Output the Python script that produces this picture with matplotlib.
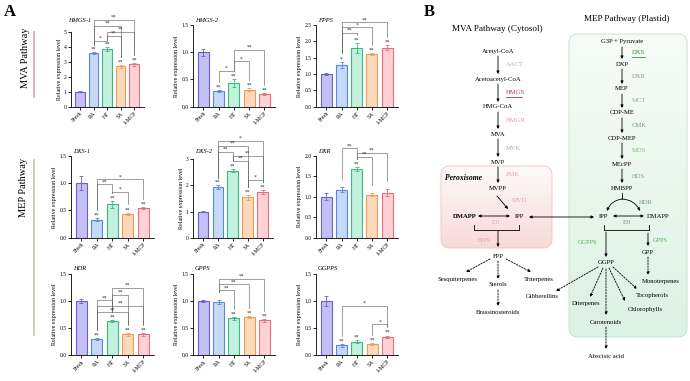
import matplotlib
matplotlib.use('Agg')
import matplotlib.pyplot as plt
import numpy as np
from matplotlib.patches import FancyBboxPatch
from matplotlib.colors import LinearSegmentedColormap

plt.rcParams['font.family'] = ['Liberation Serif', 'DejaVu Serif']

groups = ['Fresh', 'RA', 'HT', 'SA', '1-MCP']

# relative expression (mean) and error bars
hmgs1 = [1.00, 3.57, 3.83, 2.68, 2.82]
hmgs1_err = [0.03, 0.05, 0.15, 0.10, 0.10]
hmgs2 = [1.00, 0.29, 0.43, 0.31, 0.23]
hmgs2_err = [0.06, 0.02, 0.07, 0.03, 0.02]
fpps = [1.00, 1.28, 1.79, 1.60, 1.81]
fpps_err = [0.02, 0.10, 0.15, 0.03, 0.08]
dxs1 = [1.00, 0.33, 0.61, 0.44, 0.54]
dxs1_err = [0.13, 0.03, 0.06, 0.02, 0.02]
dxs2 = [1.00, 1.93, 2.57, 1.55, 1.75]
dxs2_err = [0.02, 0.07, 0.05, 0.10, 0.08]
dxr = [1.00, 1.17, 1.68, 1.05, 1.10]
dxr_err = [0.08, 0.06, 0.05, 0.04, 0.08]
hdr = [1.00, 0.29, 0.63, 0.38, 0.38]
hdr_err = [0.03, 0.02, 0.02, 0.02, 0.03]
gpps = [1.00, 0.98, 0.68, 0.70, 0.64]
gpps_err = [0.01, 0.03, 0.03, 0.02, 0.02]
ggpps = [1.00, 0.18, 0.25, 0.20, 0.34]
ggpps_err = [0.10, 0.03, 0.02, 0.02, 0.02]

# significance vs Fresh
sig_hmgs1 = ['', '**', '**', '**', '**']
sig_hmgs2 = ['', '**', '**', '**', '**']
sig_fpps = ['', '*', '**', '**', '**']
sig_dxs1 = ['', '**', '**', '**', '**']
sig_dxs2 = ['', '**', '**', '**', '**']
sig_dxr = ['', '', '**', '', '']
sig_hdr = ['', '**', '**', '**', '**']
sig_gpps = ['', '', '**', '**', '**']
sig_ggpps = ['', '**', '**', '**', '**']

# pairwise comparisons (i, j, label, bracket level)
br_hmgs1 = [(1, 4, '**', 5.78), (1, 3, '**', 5.4), (2, 4, '**', 5.0), (2, 3, '**', 4.73), (1, 2, '*', 4.4)]
br_hmgs2 = [(2, 4, '**', 1.04), (2, 3, '*', 0.83), (1, 2, '*', 0.66)]
br_fpps = [(1, 4, '**', 2.58), (1, 3, '*', 2.43), (1, 2, '**', 2.26)]
br_dxs1 = [(1, 4, '*', 1.07), (1, 2, '**', 0.98), (2, 3, '*', 0.84)]
br_dxs2 = [(1, 4, '*', 3.7), (1, 3, '**', 3.52), (1, 2, '**', 3.29), (2, 4, '**', 3.14), (2, 3, '**', 2.95), (3, 4, '*', 2.21)]
br_dxr = [(1, 2, '**', 2.18), (2, 4, '**', 2.07), (2, 3, '**', 1.98)]
br_hdr = [(2, 4, '**', 1.25), (2, 3, '**', 1.12), (1, 2, '**', 1.01), (1, 4, '**', 0.91), (1, 3, '**', 0.79)]
br_gpps = [(1, 4, '**', 1.41), (1, 3, '**', 1.31), (1, 2, '**', 1.2)]
br_ggpps = [(1, 4, '*', 0.91), (3, 4, '*', 0.57)]

panels = [
    ('HMGS-1', hmgs1, hmgs1_err, 5, 1, sig_hmgs1, br_hmgs1),
    ('HMGS-2', hmgs2, hmgs2_err, 1.5, 0.5, sig_hmgs2, br_hmgs2),
    ('FPPS', fpps, fpps_err, 2.5, 0.5, sig_fpps, br_fpps),
    ('DXS-1', dxs1, dxs1_err, 1.5, 0.5, sig_dxs1, br_dxs1),
    ('DXS-2', dxs2, dxs2_err, 3, 1, sig_dxs2, br_dxs2),
    ('DXR', dxr, dxr_err, 2.0, 0.5, sig_dxr, br_dxr),
    ('HDR', hdr, hdr_err, 1.5, 0.5, sig_hdr, br_hdr),
    ('GPPS', gpps, gpps_err, 1.5, 0.5, sig_gpps, br_gpps),
    ('GGPPS', ggpps, ggpps_err, 1.5, 0.5, sig_ggpps, br_ggpps),
]

# axes boxes in pixels: left, top, right, bottom, title y
boxes = [
    (70.7, 31.7, 143.5, 106.7, 20), (192.7, 25, 275, 106.7, 20), (315.7, 25, 397.7, 106.7, 20),
    (70.7, 156, 154, 237.7, 151.5), (192.7, 159.3, 273, 237.7, 151.5), (315.7, 155.7, 397.7, 237.7, 151.5),
    (70.7, 274, 154, 355, 269), (192.7, 274, 275, 355, 269), (315.7, 274, 398, 355, 269),
]

fills = ['#c4c0f6', '#c6daf8', '#c2f1dd', '#fdd9bb', '#fdd2d5']
edges = ['#6a5ed2', '#5a88d8', '#3db883', '#ee9c5a', '#e46f80']

W, H = 690, 381
fig = plt.figure(figsize=(6.9, 3.81), dpi=100)

ov = fig.add_axes([0, 0, 1, 1], zorder=0)
ov.axis('off')

for (name, vals, errs, top, step, sig, brs), (l, t, r, b, ty) in zip(panels, boxes):
    ax = fig.add_axes([l / W, 1 - b / H, (r - l) / W, (b - t) / H], zorder=2)
    ax.set_facecolor('none')
    x = np.arange(len(groups))
    ax.bar(x, vals, width=0.72, color=fills, edgecolor=edges, linewidth=0.8, zorder=2)
    for i in x:
        ax.errorbar(i, vals[i], yerr=errs[i], fmt='none', ecolor=edges[i], elinewidth=0.6,
                    capsize=1.5, capthick=0.6, zorder=3)
        if sig[i]:
            ax.text(i, vals[i] + errs[i] + top * 0.005, sig[i], ha='center', va='bottom',
                    fontsize=4, color='#333333')
    for i, j, lab, yb in brs:
        yi = vals[i] + errs[i] + top * 0.1
        yj = vals[j] + errs[j] + top * 0.1
        ax.plot([i, i, j, j], [yi, yb, yb, yj], color='#666666', lw=0.45, clip_on=False, zorder=1)
        ax.text((i + j) / 2, yb, lab, ha='center', va='bottom', fontsize=4, color='#333333',
                clip_on=False)
    ax.set_xlim(-0.7, 4.7)
    ax.set_ylim(0, top)
    ticks = np.arange(0, top + step / 2, step)
    ax.set_yticks(ticks)
    ax.set_yticklabels(['%d' % v if step >= 1 else '%.1f' % v for v in ticks])
    ax.set_xticks(x)
    ax.set_xticklabels(groups, rotation=45, ha='right', rotation_mode='anchor')
    for s in ['top', 'right']:
        ax.spines[s].set_visible(False)
    for s in ['left', 'bottom']:
        ax.spines[s].set_linewidth(0.6)
    ax.tick_params(labelsize=4, length=2, width=0.6, pad=1)
    ax.set_ylabel('Relative expression level', fontsize=4.3, labelpad=1.5)
    dx = -3 if name == 'HMGS-1' else 2
    ov.text(l + dx, ty, name, style='italic', fontsize=4.6, ha='left', va='center')

# panel A side labels
ov.text(4, 12, 'A', fontsize=12, fontweight='bold', ha='left', va='center')
ov.text(25, 58, 'MVA Pathway', rotation=90, fontsize=7.5, ha='center', va='center')
ov.plot([34.3, 34.3], [31.7, 96.7], color='#eba6af', lw=1.3)
ov.text(24, 187, 'MEP Pathway', rotation=90, fontsize=7.5, ha='center', va='center')
ov.plot([34.3, 34.3], [160, 335], color='#c9ccb6', lw=1.3)

# panel B
def grad_box(x0, y0, w, h, c_top, c_bot, edge):
    patch = FancyBboxPatch((x0, y0), w, h, boxstyle='round,pad=0,rounding_size=9',
                           fc='none', ec=edge, lw=0.7, zorder=1)
    ov.add_patch(patch)
    cmap = LinearSegmentedColormap.from_list('g', [c_top, c_bot])
    grad = np.linspace(0, 1, 100)[:, None]
    im = ov.imshow(grad, extent=(x0, x0 + w, y0 + h, y0), cmap=cmap, aspect='auto', zorder=0.5)
    im.set_clip_path(patch)


grad_box(569, 34, 118, 303, '#f7fcf8', '#dcf2e3', '#c6e4cd')
grad_box(441, 166, 111, 82, '#fefafa', '#f8d9d9', '#f1c9c9')


def txt(x, y, s, **kw):
    kw.setdefault('fontsize', 4.8)
    kw.setdefault('ha', 'center')
    ov.text(x, y, s, va='center', **kw)


def arr(x1, y1, x2, y2, dashed=False, style='-|>', rad=0):
    ov.annotate('', xy=(x2, y2), xytext=(x1, y1),
                arrowprops=dict(arrowstyle=style, color='k', lw=0.6, mutation_scale=4,
                                linestyle=(0, (2, 1.5)) if dashed else '-',
                                shrinkA=0, shrinkB=0, connectionstyle='arc3,rad=%s' % rad))


ov.text(424, 12, 'B', fontsize=12, fontweight='bold', ha='left', va='center')
txt(497, 29, 'MVA Pathway (Cytosol)', fontsize=6.6)
txt(627, 19, 'MEP Pathway (Plastid)', fontsize=6.6)

# MVA pathway
mva_nodes = ['Acetyl-CoA', 'Acetoacetyl-CoA', 'HMG-CoA', 'MVA', 'MVP', 'MVPP']
mva_enz = ['AACT', 'HMGS', 'HMGR', 'MVK', 'PMK']
mva_col = ['#d9a2ad', '#b3394a', '#d6a6a6', '#b9a9b9', '#dea2b6']
mva_y = [51, 79, 107, 134, 162, 188]
for k, s in enumerate(mva_nodes):
    txt(498, mva_y[k], s)
for k, s in enumerate(mva_enz):
    y0, y1 = mva_y[k] + 5, mva_y[k + 1] - 5
    arr(498, y0, 498, y1)
    ym = (y0 + y1) / 2
    txt(506, ym, s, ha='left', color=mva_col[k])
    if s == 'HMGS':
        ov.plot([506, 522], [ym + 3.5, ym + 3.5], color=mva_col[k], lw=0.6)
ov.text(445, 178, 'Peroxisome', fontsize=5.5, fontweight='bold', style='italic', va='center')

arr(497, 196, 508, 209)
txt(512, 201, 'MVD', ha='left', color='#dca2b6')
txt(465, 217, 'DMAPP', fontweight='bold')
txt(519, 217, 'IPP')
arr(478, 216, 510, 216, style='<|-|>')
txt(496, 223, 'IDI', fontsize=4.3, color='#d6aab2')
ov.plot([474, 474, 519, 519], [225, 230, 230, 225], color='k', lw=0.6)
arr(498, 231, 498, 247)
txt(491, 241, 'FPPS', ha='right', fontsize=4.3, color='#dca2b4')
txt(498, 256, 'FPP')
arr(490, 259, 466, 272, dashed=True)
arr(498, 261, 498, 279, dashed=True)
arr(506, 259, 531, 272, dashed=True)
txt(457, 279, 'Sesquiterpenes')
txt(498, 285, 'Sterols')
txt(539, 279, 'Triterpenes')
arr(498, 290, 498, 306, dashed=True)
txt(498, 312, 'Brassinosteroids')

arr(529, 217, 594, 217, style='<|-|>')

# MEP pathway
mep_nodes = ['G3P + Pyruvate', 'DXP', 'MEP', 'CDP-ME', 'CDP-MEP', 'MEcPP', 'HMBPP']
mep_enz = ['DXS', 'DXR', 'MCT', 'CMK', 'MDS', 'HDS']
mep_col = ['#2f8a35', '#7d9c8c', '#8cbb8c', '#6c9c8c', '#79c079', '#7c9c9c']
mep_y = [42, 64, 89, 113, 138, 164, 188]
for k, s in enumerate(mep_nodes):
    txt(622, mep_y[k], s)
for k, s in enumerate(mep_enz):
    y0, y1 = mep_y[k] + 5, mep_y[k + 1] - 5
    arr(622, y0, 622, y1)
    ym = (y0 + y1) / 2
    txt(632, ym, s, ha='left', color=mep_col[k])
    if s == 'DXS':
        ov.plot([632, 645], [ym + 3.5, ym + 3.5], color=mep_col[k], lw=0.6)

ov.plot([622, 622], [193, 199], color='k', lw=0.6)
arr(622, 199, 607, 211, rad=0.3)
arr(622, 199, 640, 211, rad=-0.3)
txt(639, 202, 'HDR', ha='left', color='#6c9c6c')
txt(603, 217, 'IPP')
txt(658, 217, 'DMAPP')
arr(613, 216, 644, 216, style='<|-|>')
txt(627, 223, 'IDI', fontsize=4.3, color='#6c8c8c')
ov.plot([604, 604, 649, 649], [225, 230, 230, 225], color='k', lw=0.6)
arr(606, 232, 606, 257)
txt(588, 243, 'GGPPS', fontsize=4.5, color='#52b452')
arr(648, 233, 648, 246)
txt(653, 240, 'GPPS', ha='left', fontsize=4.5, color='#52b452')
txt(648, 252, 'GPP')
arr(648, 257, 648, 275, dashed=True)
txt(661, 282, 'Monoterpenes')
txt(606, 263, 'GGPP')
arr(598, 267, 556, 291, dashed=True)
arr(603, 268, 590, 297, dashed=True)
arr(606, 269, 606, 315, dashed=True)
arr(609, 268, 625, 301, dashed=True)
arr(613, 267, 637, 289, dashed=True)
txt(542, 297, 'Gibberellins')
txt(586, 304, 'Diterpenes')
txt(606, 322, 'Carotenoids')
txt(645, 309, 'Chlorophylls')
txt(652, 296, 'Tocopherols')
arr(606, 327, 606, 349, dashed=True)
txt(606, 356, 'Abscisic acid')

ov.set_xlim(0, W)
ov.set_ylim(H, 0)

fig.savefig('out.png', dpi=100)
